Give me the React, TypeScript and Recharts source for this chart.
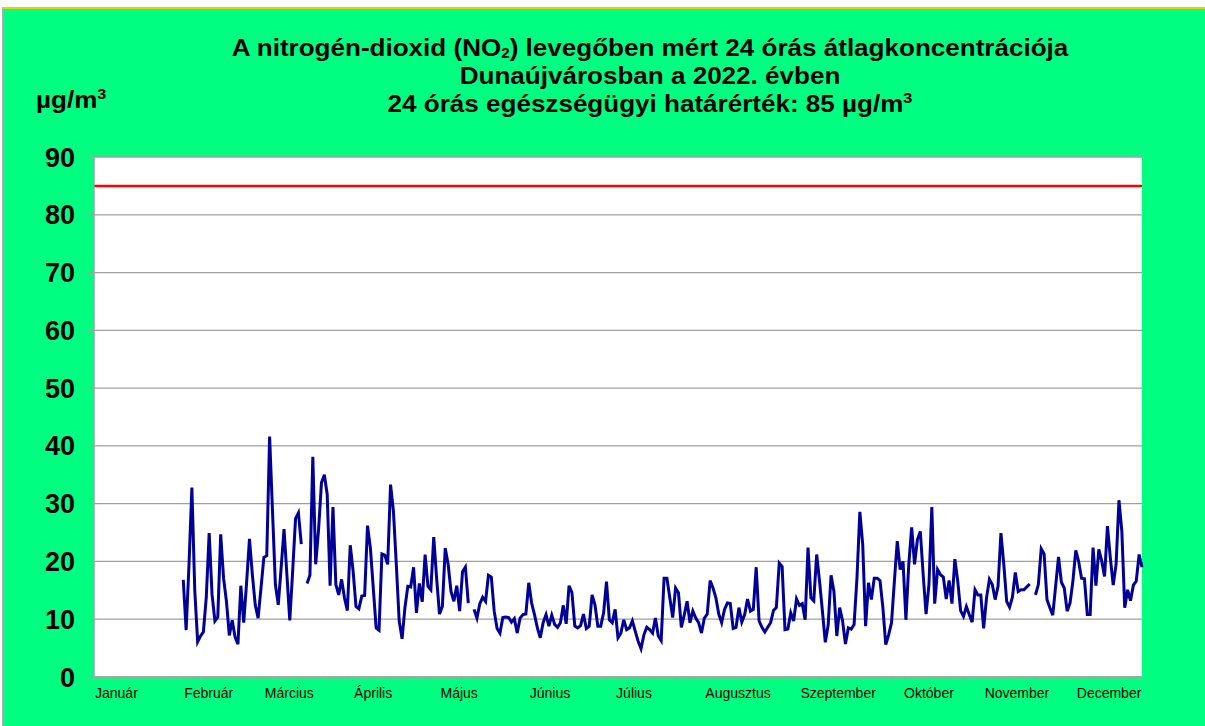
import React from 'react';
import { LineChart, Line, XAxis, YAxis, CartesianGrid, ReferenceLine } from 'recharts';

// NO2 24-hour average concentration, Dunaújváros 2022 (µg/m3), one value per day; null = no measurement
const janValues: (number | null)[] = Array.from({ length: 31 }, () => null);
const febValues: (number | null)[] = [16.8, 8.1, 19.5, 32.8, 15.0, 6.1, 7.1, 7.8, 13.8, 24.9, 14.3, 9.7, 10.4, 24.7, 17.1, 13.1, 7.2, 9.8, 6.9, 5.7, 15.8, 9.4, 16.3, 23.9, 17.7, 12.5, 10.2, 15.4];
const marValues: (number | null)[] = [20.7, 21.0, 41.6, 28.7, 16.0, 12.5, 18.9, 25.6, 17.7, 9.8, 18.3, 27.4, 28.4, 23.0, null, 16.2, 17.6, 38.1, 19.5, 25.5, 33.6, 35.0, 31.6, 15.8, 29.4, 16.0, 14.2, 16.9, 13.7, 11.5, 22.8];
const aprValues: (number | null)[] = [18.3, 12.2, 11.8, 14.0, 14.1, 26.2, 22.3, 15.4, 8.5, 8.1, 21.3, 21.1, 19.5, 33.3, 28.7, 19.5, 9.7, 6.6, 12.0, 15.7, 15.6, 19.0, 11.1, 16.2, 13.0, 21.2, 15.7, 15.1, 24.2, 17.1];
const mayValues: (number | null)[] = [10.9, 12.2, 22.3, 19.5, 14.8, 13.1, 15.8, 11.4, 18.2, 19.0, 12.8, null, 11.7, 10.2, 12.7, 13.8, 13.1, 17.6, 17.3, 11.4, 8.4, 7.6, 10.3, 10.4, 10.3, 9.5, 10.1, 7.6, 10.2, 10.8, 10.9];
const junValues: (number | null)[] = [16.3, 12.8, 10.8, 8.5, 6.8, 9.4, 10.8, 8.8, 10.7, 9.1, 8.6, 9.4, 12.4, 9.2, 15.8, 14.6, 8.8, 8.5, 8.9, 10.9, 8.4, 8.8, 14.2, 12.5, 8.8, 8.8, 11.1, 16.5, 9.9, 9.4];
const julValues: (number | null)[] = [11.7, 6.8, 7.6, 9.9, 8.2, 8.5, 9.7, 7.9, 6.2, 4.9, 7.3, 8.6, 8.2, 7.6, 10.2, 7.1, 6.3, 17.1, 17.1, 13.7, 10.3, 15.4, 14.6, 8.6, 10.7, 13.1, 9.4, 11.4, 10.2, 9.4, 7.6];
const augValues: (number | null)[] = [10.2, 10.9, 16.7, 15.4, 13.7, 10.9, 9.4, 11.7, 12.8, 12.7, 8.4, 8.6, 12.0, 9.5, 10.8, 13.5, 11.4, 11.7, 19.0, 9.7, 8.6, 7.8, 8.6, 9.4, 11.5, 12.0, 19.7, 19.1, 8.2, 8.3, 11.1];
const sepValues: (number | null)[] = [9.7, 13.5, 12.4, 12.7, 9.9, 22.4, 13.7, 13.2, 21.2, 16.6, 11.4, 6.0, 9.0, 17.6, 14.8, 7.1, 12.0, 9.7, 5.7, 8.5, 8.3, 9.1, 17.1, 28.6, 22.9, 8.8, 16.3, 13.4, 17.1, 17.1];
const octValues: (number | null)[] = [16.7, 12.0, 5.6, 7.3, 9.4, 16.6, 23.5, 18.6, 20.0, 9.9, 19.5, 25.9, 19.5, 23.8, 25.2, 17.7, 10.9, 16.0, 29.4, 12.7, 18.6, 17.7, 17.3, 13.5, 16.7, 12.7, 20.4, 16.6, 11.5, 10.5, 12.2];
const novValues: (number | null)[] = [10.8, 9.5, 15.1, 14.2, 14.2, 8.4, 13.7, 16.9, 16.0, 13.4, 15.7, 24.9, 19.5, 13.1, 12.1, 13.8, 18.1, 14.8, 15.1, 15.1, 15.6, 16.1, null, 14.2, 16.0, 22.2, 21.3, 13.4, 12.0, 10.7];
const decValues: (number | null)[] = [15.7, 20.8, 16.4, 15.4, 11.4, 12.8, 16.6, 21.9, 20.0, 17.1, 17.0, 10.8, 10.8, 22.4, 15.8, 22.1, 20.1, 17.4, 26.1, 20.6, 15.9, 19.5, 30.6, 25.2, 12.0, 15.1, 13.2, 15.9, 16.6, 21.2, 19.0];

const limitValue = 85;
const yTicks = [0, 10, 20, 30, 40, 50, 60, 70, 80, 90];
const monthLabels = ['Január', 'Február', 'Március', 'Április', 'Május', 'Június', 'Július', 'Augusztus', 'Szeptember', 'Október', 'November', 'December'];
const monthLabelDays = [0, 31, 59, 90, 120, 151, 181, 212, 245, 281, 309, 341];

const allValues = [
  ...janValues, ...febValues, ...marValues, ...aprValues, ...mayValues, ...junValues,
  ...julValues, ...augValues, ...sepValues, ...octValues, ...novValues, ...decValues,
];
const data = allValues.map((v, i) => ({ day: i, no2: v }));
const dayTicks = allValues.map((_, i) => i);

const FONT = 'Arial, "Liberation Sans", sans-serif';

const MonthTick = (props: any) => {
  const { x, y, payload } = props;
  const idx = monthLabelDays.indexOf(payload.value);
  if (idx < 0) return <g />;
  return (
    <text x={x + 1} y={y + 16} textAnchor="start" fontSize={14} fontFamily={FONT} fill="#000">
      {monthLabels[idx]}
    </text>
  );
};

const subStyle: React.CSSProperties = { fontSize: 14, lineHeight: 1, position: 'relative', top: 2, verticalAlign: 'baseline' };
const supStyle: React.CSSProperties = { fontSize: 15, lineHeight: 1, position: 'relative', top: -9, verticalAlign: 'baseline' };

export default function App() {
  return (
    <div style={{ position: 'absolute', left: 0, top: 0, width: 1205, height: 726, background: '#fff', fontFamily: FONT, overflow: 'hidden' }}>
      <div style={{ position: 'absolute', left: 2, top: 7, width: 1203, height: 719, background: '#00FF80', borderTop: '2px solid #E6D200', borderLeft: '1px solid #B0B0B0', boxSizing: 'border-box' }} />
      <div style={{ position: 'absolute', left: 150, top: 34, width: 1000, textAlign: 'center', fontWeight: 'bold', fontSize: 24, lineHeight: '28px', color: '#000', whiteSpace: 'nowrap', transform: 'scaleX(1.085)', transformOrigin: '500px 0' }}>
        <div>A nitrogén-dioxid (NO<span style={subStyle}>2</span>) levegőben mért 24 órás átlagkoncentrációja</div>
        <div>Dunaújvárosban a 2022. évben</div>
        <div>24 órás egészségügyi határérték: 85 µg/m<span style={supStyle}>3</span></div>
      </div>
      <div style={{ position: 'absolute', left: 36, top: 86, fontWeight: 'bold', fontSize: 24, lineHeight: '28px', color: '#000', whiteSpace: 'nowrap', transform: 'scaleX(1.085)', transformOrigin: '0 0' }}>
        µg/m<span style={supStyle}>3</span>
      </div>
      <div style={{ position: 'absolute', left: 0, top: 0 }}>
        <LineChart width={1205} height={726} data={data} margin={{ top: 157, right: 63, bottom: 19, left: 0 }}>
          <CartesianGrid vertical={false} fill="#ffffff" fillOpacity={1} stroke="#A0A0A0" strokeWidth={1.3} />
          <XAxis
            dataKey="day"
            type="number"
            domain={[0, 364]}
            ticks={dayTicks}
            interval={0}
            tickSize={3}
            tickMargin={2}
            height={30}
            axisLine={{ stroke: '#A0A0A0', strokeWidth: 1.5 }}
            tickLine={{ stroke: '#A8A8A8' }}
            tick={<MonthTick />}
          />
          <YAxis
            type="number"
            domain={[0, 90]}
            ticks={yTicks}
            interval={0}
            width={94}
            tickSize={6}
            tickMargin={13}
            axisLine={{ stroke: '#A0A0A0', strokeWidth: 1.5 }}
            tickLine={{ stroke: '#A0A0A0' }}
            tick={{ fontSize: 27, fontWeight: 'bold', fill: '#000', fontFamily: FONT }}
          />
          <ReferenceLine y={limitValue} stroke="#FF0000" strokeWidth={2.5} />
          <Line
            type="linear"
            dataKey="no2"
            stroke="#000096"
            strokeWidth={3}
            dot={false}
            activeDot={false}
            connectNulls={false}
            isAnimationActive={false}
          />
        </LineChart>
      </div>
    </div>
  );
}
